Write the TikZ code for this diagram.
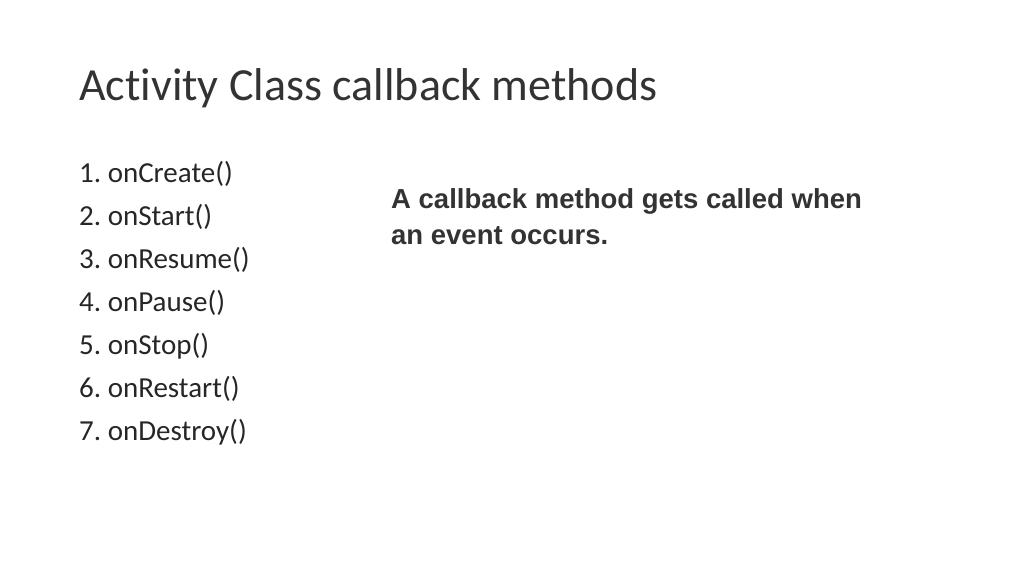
\documentclass[tikz,border=0pt]{standalone}
\usepackage{fontspec}
\setmainfont[Ligatures=NoCommon]{Carlito}
\newfontfamily\notefont{Liberation Sans}
\begin{document}
\begin{tikzpicture}
		[x=1pt,y=-1pt,
		%Styles
		title text/.style={anchor=base west,inner sep=0pt,font=\fontsize{46}{50}\selectfont,text=black!80},
		list text/.style={anchor=base west,inner sep=0pt,font=\fontsize{29}{32}\selectfont,text=black!85},
		note text/.style={anchor=base west,inner sep=0pt,align=left,font=\notefont\bfseries\fontsize{27.5}{36}\selectfont,text=black!80}
		]
		
		%The slide
		\useasboundingbox (0,0) rectangle (1024,576);
		\node[title text] (title) at (79,100) {Activity Class callback methods};
		
		\node[list text] (m1) at (79,182) {1.~onCreate()};
		\node[list text] (m2) at (79,225) {2.~onStart()};
		\node[list text] (m3) at (79,268) {3.~onResume()};
		\node[list text] (m4) at (79,311) {4.~onPause()};
		\node[list text] (m5) at (79,354) {5.~onStop()};
		\node[list text] (m6) at (79,397) {6.~onRestart()};
		\node[list text] (m7) at (79,440) {7.~onDestroy()};
		
		\node[note text] (note) at (391,244) {A callback method gets called when\\an event occurs.};
	\end{tikzpicture}
\end{document}
